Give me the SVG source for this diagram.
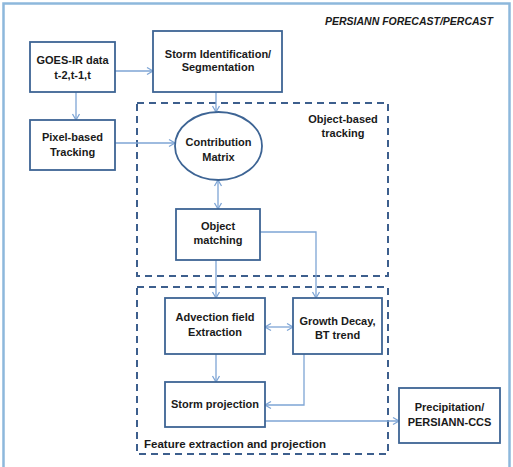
<svg xmlns="http://www.w3.org/2000/svg" width="513" height="467" viewBox="0 0 513 467">
<defs>
<marker id="ah" markerUnits="userSpaceOnUse" markerWidth="10" markerHeight="10" viewBox="0 0 10 10" refX="8" refY="5" orient="auto-start-reverse">
<path d="M2,1.5 L8,5 L2,8.5" fill="none" stroke="#7ea5d5" stroke-width="1.3"/>
</marker>
<style>
.box{fill:#fff;stroke:#3d6494;stroke-width:1.8}
.grp{fill:none;stroke:#3d5f8d;stroke-width:2;stroke-dasharray:7,5}
.c{fill:none;stroke:#7ea5d5;stroke-width:1.3}
.t{font-family:"Liberation Sans",Arial,sans-serif;font-weight:bold;font-size:11px;fill:#1a1a1a;text-anchor:middle}
.tl{font-family:"Liberation Sans",Arial,sans-serif;font-weight:bold;font-size:11.5px;fill:#1a1a1a}
</style>
</defs>
<rect x="0" y="0" width="513" height="467" fill="#fff"/>
<rect x="3.5" y="3.5" width="506" height="470" fill="none" stroke="#8db8dc" stroke-width="2.5"/>
<text x="493" y="25" style="font-family:'Liberation Sans',Arial,sans-serif;font-weight:bold;font-style:italic;font-size:10.5px;fill:#1a1a1a;text-anchor:end">PERSIANN FORECAST/PERCAST</text>

<g id="group-object-based">
<rect class="grp" x="137" y="103" width="251" height="173"/>
<text class="t" x="343" y="123">Object-based</text>
<text class="t" x="343" y="137">tracking</text>
</g>
<g id="group-feature">
<rect class="grp" x="137" y="287" width="251" height="167"/>
<text class="tl" x="144" y="448">Feature extraction and projection</text>
</g>

<g id="connectors">
<line class="c" x1="115" y1="71" x2="153" y2="71" marker-end="url(#ah)"/>
<line class="c" x1="76" y1="92" x2="76" y2="120" marker-end="url(#ah)"/>
<line class="c" x1="115" y1="143" x2="175" y2="143" marker-end="url(#ah)"/>
<line class="c" x1="216" y1="92" x2="216" y2="112" marker-end="url(#ah)"/>
<line class="c" x1="218" y1="180" x2="218" y2="209" marker-start="url(#ah)" marker-end="url(#ah)"/>
<line class="c" x1="216" y1="260" x2="216" y2="298" marker-end="url(#ah)"/>
<polyline class="c" points="260,232 316,232 316,298" marker-end="url(#ah)"/>
<line class="c" x1="265" y1="327" x2="293" y2="327" marker-start="url(#ah)" marker-end="url(#ah)"/>
<line class="c" x1="216" y1="354" x2="216" y2="382" marker-end="url(#ah)"/>
<polyline class="c" points="304,354 304,405 265,405" marker-end="url(#ah)"/>
<line class="c" x1="265" y1="421" x2="399" y2="421" marker-end="url(#ah)"/>
</g>

<g id="goes">
<rect class="box" x="30" y="42" width="85" height="50"/>
<text class="t" x="72.5" y="64">GOES-IR data</text>
<text class="t" x="72.5" y="79">t-2,t-1,t</text>
</g>
<g id="storm-id">
<rect class="box" x="153" y="31" width="129" height="61"/>
<text class="t" x="218" y="58">Storm Identification/</text>
<text class="t" x="218" y="71">Segmentation</text>
</g>
<g id="pixel">
<rect class="box" x="30" y="120" width="85" height="50"/>
<text class="t" x="72.5" y="141">Pixel-based</text>
<text class="t" x="72.5" y="156">Tracking</text>
</g>
<g id="contribution">
<ellipse class="box" cx="218.5" cy="146" rx="43.5" ry="34"/>
<text class="t" x="218.5" y="146">Contribution</text>
<text class="t" x="218.5" y="161">Matrix</text>
</g>
<g id="object-matching">
<rect class="box" x="176" y="209" width="84" height="51"/>
<text class="t" x="218" y="230">Object</text>
<text class="t" x="218" y="244">matching</text>
</g>
<g id="advection">
<rect class="box" x="165" y="298" width="100" height="56"/>
<text class="t" x="215" y="321">Advection field</text>
<text class="t" x="215" y="336">Extraction</text>
</g>
<g id="growth">
<rect class="box" x="293" y="298" width="89" height="56"/>
<text class="t" x="337.5" y="325">Growth Decay,</text>
<text class="t" x="337.5" y="339">BT trend</text>
</g>
<g id="storm-projection">
<rect class="box" x="165" y="382" width="100" height="45"/>
<text class="t" x="215" y="408">Storm projection</text>
</g>
<g id="precipitation">
<rect class="box" x="399" y="388" width="101" height="55"/>
<text class="t" x="449.5" y="411">Precipitation/</text>
<text class="t" x="449.5" y="426">PERSIANN-CCS</text>
</g>
</svg>
